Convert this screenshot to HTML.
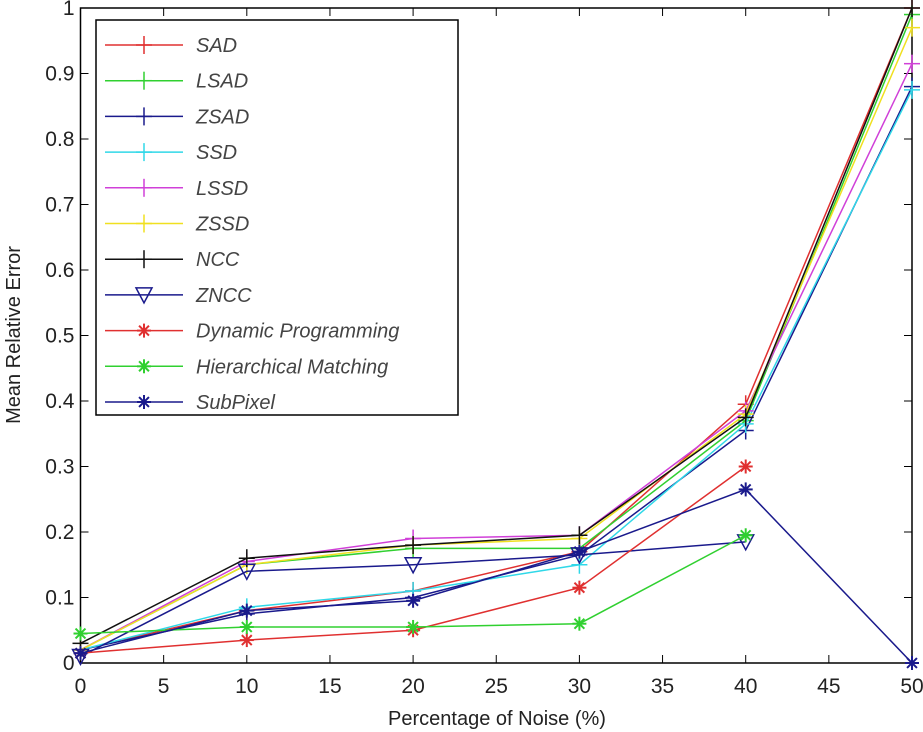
<!DOCTYPE html>
<html><head><meta charset="utf-8"><style>
body{margin:0;background:#fff;}
svg{display:block;font-family:"Liberation Sans",sans-serif;}
</style></head><body>
<svg id="chart" width="923" height="732" viewBox="0 0 923 732" xmlns="http://www.w3.org/2000/svg"></svg>
<script>
const xValues = [0, 10, 20, 30, 40, 50];
const seriesNames = ["SAD","LSAD","ZSAD","SSD","LSSD","ZSSD","NCC","ZNCC","Dynamic Programming","Hierarchical Matching","SubPixel"];
const sadVals  = [0.02, 0.08, 0.11, 0.17, 0.395, 1.0];
const lsadVals = [0.02, 0.15, 0.175, 0.175, 0.37, 0.99];
const zsadVals = [0.02, 0.075, 0.10, 0.165, 0.355, 0.88];
const ssdVals  = [0.02, 0.085, 0.11, 0.15, 0.365, 0.875];
const lssdVals = [0.02, 0.155, 0.19, 0.195, 0.385, 0.915];
const zssdVals = [0.02, 0.15, 0.18, 0.19, 0.38, 0.97];
const nccVals  = [0.03, 0.16, 0.18, 0.195, 0.375, 1.0];
const znccVals = [0.01, 0.14, 0.15, 0.165, 0.185, null];
const dpVals   = [0.015, 0.035, 0.05, 0.115, 0.30, null];
const hmVals   = [0.045, 0.055, 0.055, 0.06, 0.195, null];
const spVals   = [0.015, 0.08, 0.095, 0.17, 0.265, 0.0];
const xTicks = [0,5,10,15,20,25,30,35,40,45,50];
const yTicks = [0,0.1,0.2,0.3,0.4,0.5,0.6,0.7,0.8,0.9,1];
const yTickLabels = ["0","0.1","0.2","0.3","0.4","0.5","0.6","0.7","0.8","0.9","1"];

const allVals=[sadVals,lsadVals,zsadVals,ssdVals,lssdVals,zssdVals,nccVals,znccVals,dpVals,hmVals,spVals];
const colors=["#e03030","#30d030","#1a1a8c","#30d8e8","#d040d8","#f0e020","#111111","#1a1a8c","#e03030","#30d030","#1a1a8c"];
const markers=["+","+","+","+","+","+","+","tri","*","*","*"];
const L=80.5,R=912,T=8,B=663;
const sx=v=>L+(v-0)/(50-0)*(R-L);
const sy=v=>B-v*(B-T);
const svg=document.getElementById('chart');
const NS="http://www.w3.org/2000/svg";
function mk(t,a,p){const e=document.createElementNS(NS,t);for(const k in a)e.setAttribute(k,a[k]);(p||svg).appendChild(e);return e;}

const box=mk('rect',{x:L,y:T,width:R-L,height:B-T,fill:'none',stroke:'#000','stroke-width':1.5});



xTicks.forEach(t=>{
  const x=sx(t);
  mk('line',{x1:x,y1:B,x2:x,y2:B-8,stroke:'#000'});
  mk('line',{x1:x,y1:T,x2:x,y2:T+8,stroke:'#000'});
  const tx=mk('text',{x:x,y:B+30,'font-size':21,'text-anchor':'middle',fill:'#222'});
  tx.textContent=t;
  
  
});
yTicks.forEach((t,i)=>{
  const y=sy(t);
  mk('line',{x1:L,y1:y,x2:L+8,y2:y,stroke:'#000'});
  mk('line',{x1:R,y1:y,x2:R-8,y2:y,stroke:'#000'});
  const tx=mk('text',{x:L-6,y:y+7,'font-size':21,'text-anchor':'end',fill:'#222'});
  tx.textContent=yTickLabels[i];
  
  
});
const xt=mk('text',{x:497,y:725,'font-size':20,'text-anchor':'middle',fill:'#222'});
xt.textContent="Percentage of Noise (%)";


const yt=mk('text',{x:0,y:0,'font-size':20,'text-anchor':'middle',fill:'#222',transform:'translate(20,335) rotate(-90)'});
yt.textContent="Mean Relative Error";



function marker(g,type,x,y,c){
  if(type==='+'){
    mk('line',{x1:x-8,y1:y,x2:x+8,y2:y,stroke:c,'stroke-width':1.5},g);
    mk('line',{x1:x,y1:y-9,x2:x,y2:y+9,stroke:c,'stroke-width':1.5},g);
  }else if(type==='tri'){
    mk('polygon',{points:`${x-8},${y-7} ${x+8},${y-7} ${x},${y+8}`,fill:'none',stroke:c,'stroke-width':1.5},g);
  }else{
    for(let a=0;a<4;a++){const r=a*Math.PI/4;
      mk('line',{x1:x-7*Math.cos(r),y1:y-7*Math.sin(r),x2:x+7*Math.cos(r),y2:y+7*Math.sin(r),stroke:c,'stroke-width':2},g);}
  }
}
allVals.forEach((vals,si)=>{
  const g=mk('g',{});
  
  
  const pts=[];
  vals.forEach((v,i)=>{if(v!==null)pts.push(sx(xValues[i])+','+sy(v));});
  mk('polyline',{points:pts.join(' '),fill:'none',stroke:colors[si],'stroke-width':1.5},g);
  vals.forEach((v,i)=>{if(v!==null)marker(g,markers[si],sx(xValues[i]),sy(v),colors[si]);});
});

const lg=mk('g',{});


mk('rect',{x:96,y:20,width:362,height:395,fill:'#fff',stroke:'#000','stroke-width':1.5},lg);
seriesNames.forEach((n,i)=>{
  const y=45+i*35.7;
  const e=mk('g',{},lg);
  
  
  mk('line',{x1:105,y1:y,x2:183,y2:y,stroke:colors[i],'stroke-width':1.5},e);
  marker(e,markers[i],144,y,colors[i]);
  const t=mk('text',{x:196,y:y+7,'font-size':20,'font-style':'italic',fill:'#444'},e);
  t.textContent=n;
});
</script>
</body></html>
